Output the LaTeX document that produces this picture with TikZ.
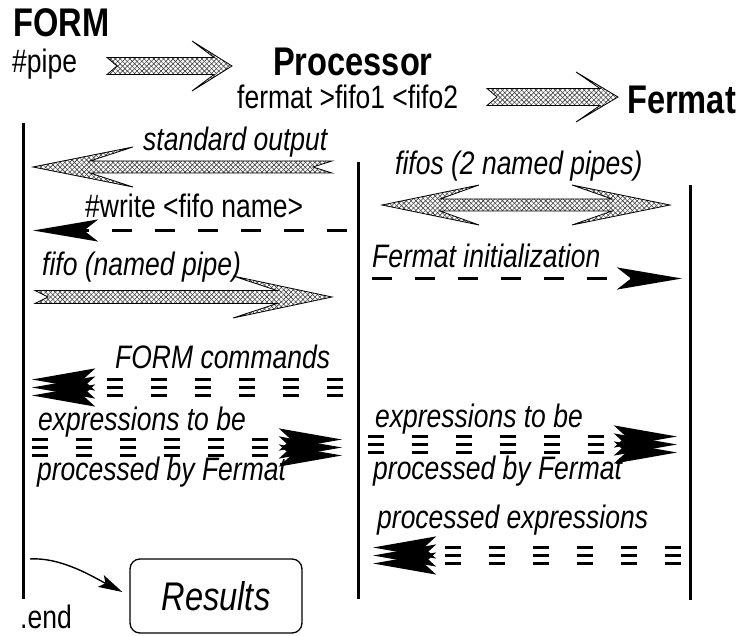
\documentclass[tikz,border=0pt]{standalone}
\usepackage{fontspec}
\setmainfont{Liberation Sans}
\usetikzlibrary{arrows.meta,patterns.meta}
\newcommand\cz[1]{\scalebox{0.815}[1]{#1}}
\tikzset{
  body/.style={anchor=base west,inner sep=0pt,font=\fontsize{32.5}{36}\selectfont},
  ibody/.style={body,font=\itshape\fontsize{32.5}{36}\selectfont},
  title/.style={anchor=base west,inner sep=0pt,font=\bfseries\fontsize{40}{44}\selectfont},
  hatch/.style={preaction={fill=white},
    preaction={pattern={Lines[angle=45,distance=3.4pt,line width=0.6pt]},pattern color=black!75},
    pattern={Lines[angle=-45,distance=3.4pt,line width=0.6pt]},pattern color=black!75,
    draw=black,line width=0.8pt,line join=miter},
  lifeline/.style={line width=3pt},
  dasharr/.style={line width=3pt,dash pattern=on 20pt off 23pt,
    -{Stealth[length=65pt,width=22pt,inset=14pt]}},
  triarr/.style={line width=3pt,dash pattern=on 16pt off 28pt,
    -{Stealth[length=63pt,width=22pt,inset=12pt]}},
}
\begin{document}
\begin{tikzpicture}[x=1pt,y=-1pt]
\useasboundingbox (0,0) rectangle (745,636);
% titles
\node[title] (form) at (13,37) {\cz{FORM}};
\node[body] (pipe) at (12,73) {\cz{\#pipe}};
\node[title] (proc) at (273,76) {\cz{Processor}};
\node[body] (cmd) at (237,109) {\cz{fermat >fifo1 <fifo2}};
\node[title] (ferm) at (627,114) {\cz{Fermat}};
% top hatched arrows
\path[hatch] (107,57.5) -- (117,66) -- (107,74.5) -- (214,74.5) -- (192,91) -- (232,66) -- (192,41) -- (214,57.5) -- cycle;
\path[hatch] (487,88.5) -- (497,97) -- (487,105.5) -- (600,105.5) -- (576,122) -- (618,97) -- (576,72) -- (600,88.5) -- cycle;
% lifelines
\coordinate (l1t) at (23,123); \coordinate (l1b) at (23,599);
\coordinate (l2t) at (358,162); \coordinate (l2b) at (358,599);
\coordinate (l3t) at (690,185); \coordinate (l3b) at (690,600);
\draw[lifeline] (l1t) -- (l1b);
\draw[lifeline] (l2t) -- (l2b);
\draw[lifeline] (l3t) -- (l3b);
% left column
\node[ibody] (stdout) at (143,151) {\cz{standard output}};
\path[hatch] (332,161) -- (313,167) -- (332,173) -- (90,173) -- (133,187) -- (33,167) -- (133,147) -- (90,161) -- cycle;
\node[body] (wr) at (85,218) {\cz{\#write <fifo name>}};
\coordinate (wa) at (347,230.5); \coordinate (wb) at (33,230.5);
\draw[dasharr] (wa) -- (wb);
\node[ibody] (fifo) at (42,276) {\cz{fifo (named pipe)}};
\path[hatch] (35,290.5) -- (48,297) -- (35,303.5) -- (277,303.5) -- (233,318) -- (332,297) -- (233,276) -- (277,290.5) -- cycle;
\node[ibody] (fc) at (115,369) {\cz{FORM commands}};
\foreach \dy in {-8,0,8}{
  \draw[triarr] (343,387.5+\dy) -- (32,387.5+\dy);
}
\node[ibody] (e1) at (38,431) {\cz{expressions to be}};
\foreach \dy in {-8,0,8}{
  \draw[triarr] (32,447.5+\dy) -- (342,447.5+\dy);
}
\node[ibody] (p1) at (37,481) {\cz{processed by Fermat}};
% right column
\node[ibody] (fifos) at (395,175) {\cz{fifos (2 named pipes)}};
\path[hatch] (382,205) -- (479,185) -- (440,199) -- (612,199) -- (572,185) -- (670,205) -- (572,225) -- (612,211) -- (440,211) -- (479,225) -- cycle;
\node[ibody] (fi) at (372,268) {\cz{Fermat initialization}};
\coordinate (fa) at (372,278.5); \coordinate (fb) at (682,278.5);
\draw[dasharr] (fa) -- (fb);
\node[ibody] (e2) at (375,428) {\cz{expressions to be}};
\foreach \dy in {-8,0,8}{
  \draw[triarr] (368,444.5+\dy) -- (677,444.5+\dy);
}
\node[ibody] (p2) at (373,479) {\cz{processed by Fermat}};
\node[ibody] (pe) at (377,529) {\cz{processed expressions}};
\foreach \dy in {-8,0,8}{
  \draw[triarr] (681,555.5+\dy) -- (373,555.5+\dy);
}
% bottom
\node[draw,rounded corners=10pt,line width=1.3pt,minimum width=172pt,minimum height=74pt,inner sep=0pt,
  font=\itshape\fontsize{40}{44}\selectfont] (res) at (216,596) {\cz{Results}};
\coordinate (cs) at (30,559);
\draw[line width=1.4pt,-{Stealth[length=24pt,width=13pt,inset=5pt]}] (cs) .. controls (62,557) and (95,578) .. ([xshift=-7pt,yshift=4pt]res.west);
\node[body] (end) at (20,628) {\cz{.end}};
\end{tikzpicture}
\end{document}
